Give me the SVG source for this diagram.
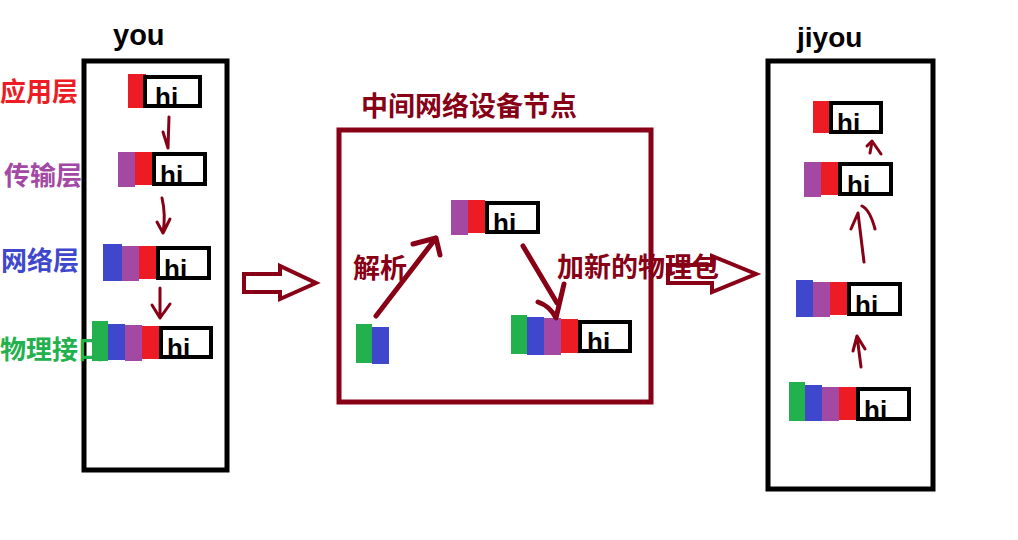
<svg xmlns="http://www.w3.org/2000/svg" width="1018" height="540" viewBox="0 0 1018 540">
<style>
.r{fill:#ED1C24}.p{fill:#A349A4}.b{fill:#3F48CC}.g{fill:#22B14C}
.hb{fill:none;stroke:#000;stroke-width:4}
.hi{font-family:"Liberation Sans",Arial,sans-serif;font-weight:bold;font-size:26px;fill:#000}
.cn{font-family:"Noto Sans CJK SC","Noto Sans",sans-serif;font-weight:bold}
.lbl{font-family:"Liberation Sans",Arial,sans-serif;font-weight:bold;fill:#000}
.frame{fill:none;stroke:#000;stroke-width:5}
.sa{fill:none;stroke:#880015;stroke-width:3;stroke-linecap:round;stroke-linejoin:round}
.da{fill:none;stroke:#880015;stroke-width:5;stroke-linecap:round;stroke-linejoin:round}
.ba{fill:#fff;stroke:#880015;stroke-width:4;stroke-linejoin:miter}
</style>
<rect width="1018" height="540" fill="#fff"/>

<g id="you-host">
<rect class="frame" x="84" y="61" width="143" height="409"/>
<text class="lbl" x="113" y="45" font-size="29">you</text>
</g>
<g id="layer-labels">
<text class="cn" x="0" y="101" font-size="26" fill="#ED1C24">应用层</text>
<text class="cn" x="4" y="185" font-size="26" fill="#A349A4">传输层</text>
<text class="cn" x="1" y="270" font-size="26" fill="#3F48CC">网络层</text>
<text class="cn" x="0" y="359" font-size="26" fill="#22B14C">物理接口</text>
</g>

<g id="you-app">
<rect class="r" x="128" y="74" width="18" height="34"/>
<text class="hi" x="155" y="106">hi</text>
<rect class="hb" x="145" y="77" width="55" height="29"/>
</g>
<g id="you-transport">
<rect class="p" x="118" y="152" width="17" height="35"/>
<rect class="r" x="135" y="152" width="18" height="33"/>
<text class="hi" x="160" y="184">hi</text>
<rect class="hb" x="154" y="154" width="51" height="30"/>
</g>
<g id="you-network">
<rect class="b" x="103" y="244" width="19" height="37"/>
<rect class="p" x="122" y="246" width="17" height="35"/>
<rect class="r" x="139" y="246" width="17" height="33"/>
<text class="hi" x="164" y="278">hi</text>
<rect class="hb" x="158" y="248" width="51" height="30"/>
</g>
<g id="you-physical">
<rect class="g" x="92" y="321" width="16" height="40"/>
<rect class="b" x="108" y="324" width="17" height="36"/>
<rect class="p" x="125" y="325" width="17" height="36"/>
<rect class="r" x="142" y="326" width="17" height="33"/>
<text class="hi" x="167" y="357">hi</text>
<rect class="hb" x="161" y="328" width="50" height="29"/>
</g>

<g id="middle-node">
<rect fill="none" stroke="#880015" stroke-width="5" x="339" y="130" width="312" height="272"/>
<text class="cn" x="361" y="116" font-size="27" fill="#880015">中间网络设备节点</text>
</g>
<g id="mid-network">
<rect class="p" x="451" y="200" width="17" height="35"/>
<rect class="r" x="468" y="200" width="17" height="33"/>
<text class="hi" x="493" y="232">hi</text>
<rect class="hb" x="487" y="203" width="51" height="29"/>
</g>
<g id="mid-in">
<rect class="g" x="356" y="324" width="16" height="39"/>
<rect class="b" x="372" y="327" width="17" height="37"/>
</g>
<g id="mid-out">
<rect class="g" x="511" y="315" width="16" height="39"/>
<rect class="b" x="527" y="317" width="17" height="38"/>
<rect class="p" x="544" y="318" width="17" height="37"/>
<rect class="r" x="561" y="319" width="17" height="34"/>
<text class="hi" x="587" y="351">hi</text>
<rect class="hb" x="580" y="322" width="50" height="29"/>
</g>

<g id="jiyou-host">
<rect class="frame" x="768" y="61" width="165" height="428"/>
<text class="lbl" x="797" y="47" font-size="28">jiyou</text>
</g>
<g id="jiyou-app">
<rect class="r" x="813" y="101" width="16" height="32"/>
<text class="hi" x="837" y="132">hi</text>
<rect class="hb" x="831" y="103" width="50" height="29"/>
</g>
<g id="jiyou-transport">
<rect class="p" x="804" y="162" width="17" height="35"/>
<rect class="r" x="821" y="162" width="17" height="33"/>
<text class="hi" x="847" y="194">hi</text>
<rect class="hb" x="840" y="164" width="51" height="30"/>
</g>
<g id="jiyou-network">
<rect class="b" x="796" y="280" width="17" height="37"/>
<rect class="p" x="813" y="282" width="17" height="35"/>
<rect class="r" x="830" y="282" width="17" height="33"/>
<text class="hi" x="855" y="314">hi</text>
<rect class="hb" x="849" y="284" width="51" height="30"/>
</g>
<g id="jiyou-physical">
<rect class="g" x="789" y="382" width="16" height="39"/>
<rect class="b" x="805" y="385" width="17" height="36"/>
<rect class="p" x="822" y="387" width="17" height="34"/>
<rect class="r" x="839" y="387" width="17" height="33"/>
<text class="hi" x="864" y="419">hi</text>
<rect class="hb" x="858" y="389" width="51" height="30"/>
</g>

<g id="connectors">
<path class="sa" d="M169 117 L168 148 M163 132 L168 148"/>
<path class="sa" d="M162 198 Q166 215 163 233 M157 222 L163 233 L170 219"/>
<path class="sa" d="M160 288 L160 318 M152 305 L160 318 L170 304"/>
<path class="ba" d="M244 274 L280 274 L280 266 L316 283 L280 299 L280 292 L244 292 Z"/>
<path class="da" d="M376 316 L436 238 M413 244 L436 238 L440 255"/>
<path class="da" d="M523 246 L557 303 M538 302 Q550 306 556 318 L564 284"/>
<path class="ba" d="M668 265 L712 265 L712 256 L756 274 L712 292 L712 283 L668 283 Z"/>
<path class="sa" d="M861 367 L857 336 M853 351 L857 336 L865 349"/>
<path class="sa" d="M864 262 L858 213 M851 229 L858 213 M862 206 Q870 210 875 229"/>
<path class="sa" d="M870 153 L872 142 M867 146 L872 141 L881 154"/>
</g>
<g id="mid-labels">
<text class="cn" x="353" y="278" font-size="27" fill="#880015">解析</text>
<text class="cn" x="557" y="277" font-size="27" fill="#880015">加新的物理包</text>
</g>
</svg>
